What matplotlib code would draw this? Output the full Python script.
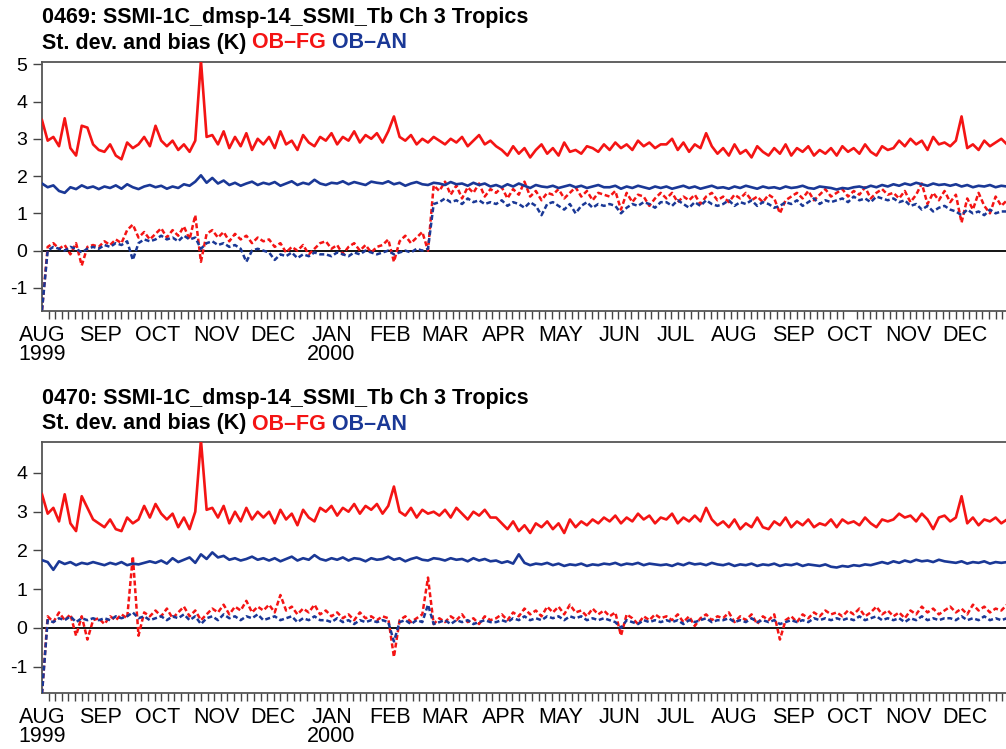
import numpy as np
import pandas as pd
import matplotlib
matplotlib.use("Agg")
import matplotlib.pyplot as plt
import matplotlib.dates as mdates
from matplotlib.ticker import FixedLocator, FuncFormatter

plt.rcParams["font.family"] = ["Liberation Sans", "DejaVu Sans"]
plt.rcParams["axes.unicode_minus"] = False

RED = "#f41414"
BLUE = "#1a3896"

# 3-day sampling, Aug 1999 - Dec 2000
dates = pd.date_range("1999-08-01", periods=173, freq="3D")

# ---- 0469 ----
fg_std_1 = [
    3.50, 2.95, 3.05, 2.80, 3.55, 2.75, 2.55, 3.35, 3.30, 2.85,
    2.70, 2.65, 2.85, 2.55, 2.45, 2.90, 2.75, 2.85, 3.05, 2.80,
    3.35, 2.95, 2.80, 2.95, 2.70, 2.85, 2.65, 2.95, 5.10, 3.05,
    3.10, 2.85, 3.20, 2.75, 3.05, 2.80, 3.15, 2.70, 3.00, 2.85,
    3.05, 2.75, 3.20, 2.85, 2.95, 2.70, 3.10, 2.90, 2.80, 3.05,
    2.95, 3.15, 2.85, 3.05, 2.95, 3.20, 2.90, 3.10, 3.00, 3.15,
    2.90, 3.20, 3.60, 3.05, 2.95, 3.10, 2.85, 3.00, 2.90, 3.05,
    2.95, 2.85, 3.00, 2.90, 3.05, 2.80, 2.95, 3.10, 2.85, 2.95,
    2.80, 2.70, 2.55, 2.80, 2.60, 2.75, 2.50, 2.70, 2.85, 2.60,
    2.75, 2.55, 2.90, 2.65, 2.70, 2.60, 2.80, 2.75, 2.65, 2.85,
    2.70, 2.90, 2.75, 2.85, 2.70, 2.95, 2.80, 2.90, 2.75, 2.85,
    2.85, 3.00, 2.70, 2.90, 2.65, 2.85, 2.75, 3.15, 2.80, 2.60,
    2.75, 2.55, 2.85, 2.60, 2.70, 2.50, 2.80, 2.65, 2.55, 2.75,
    2.60, 2.85, 2.55, 2.75, 2.65, 2.80, 2.55, 2.70, 2.60, 2.75,
    2.55, 2.80, 2.65, 2.75, 2.60, 2.85, 2.65, 2.55, 2.80, 2.70,
    2.75, 2.95, 2.80, 3.00, 2.85, 2.95, 2.70, 3.05, 2.85, 2.90,
    2.80, 2.95, 3.60, 2.75, 2.85, 2.70, 2.95, 2.80, 2.90, 3.00,
    2.85, 3.05, 2.95,
]
an_std_1 = [
    1.80, 1.70, 1.75, 1.60, 1.55, 1.70, 1.65, 1.75, 1.68, 1.72,
    1.65, 1.72, 1.68, 1.75, 1.66, 1.78, 1.70, 1.65, 1.72, 1.76,
    1.70, 1.74, 1.66, 1.72, 1.68, 1.78, 1.74, 1.85, 2.02, 1.82,
    1.95, 1.80, 1.88, 1.76, 1.82, 1.74, 1.80, 1.85, 1.76, 1.82,
    1.78, 1.84, 1.74, 1.80, 1.86, 1.76, 1.82, 1.78, 1.90, 1.80,
    1.76, 1.82, 1.80, 1.86, 1.78, 1.84, 1.80, 1.76, 1.85, 1.82,
    1.80, 1.86, 1.78, 1.82, 1.74, 1.80, 1.84, 1.78, 1.76, 1.82,
    1.80, 1.76, 1.84, 1.78, 1.80, 1.74, 1.82, 1.76, 1.80, 1.72,
    1.76, 1.70, 1.78, 1.72, 1.80, 1.74, 1.68, 1.76, 1.72, 1.70,
    1.74, 1.68, 1.72, 1.76, 1.70, 1.74, 1.68, 1.72, 1.76, 1.70,
    1.70, 1.74, 1.66, 1.72, 1.68, 1.74, 1.70, 1.66, 1.72, 1.68,
    1.72, 1.66, 1.70, 1.74, 1.68, 1.72, 1.66, 1.70, 1.74, 1.68,
    1.70, 1.66, 1.72, 1.68, 1.74, 1.70, 1.66, 1.72, 1.68, 1.70,
    1.66, 1.72, 1.68, 1.70, 1.74, 1.68, 1.66, 1.72, 1.70, 1.68,
    1.64, 1.68, 1.66, 1.70, 1.72, 1.68, 1.74, 1.70, 1.76, 1.72,
    1.78, 1.74, 1.80, 1.76, 1.82, 1.78, 1.74, 1.80, 1.76, 1.78,
    1.74, 1.78, 1.72, 1.76, 1.70, 1.74, 1.72, 1.76, 1.70, 1.74,
    1.72, 1.68, 1.70,
]
fg_bias_1 = [
    -1.60, 0.10, 0.20, 0.05, 0.15, -0.10, 0.20, -0.40, 0.10, 0.15,
    0.10, 0.25, 0.15, 0.30, 0.20, 0.55, 0.70, 0.35, 0.50, 0.30,
    0.45, 0.60, 0.35, 0.55, 0.40, 0.65, 0.30, 0.95, -0.30, 0.45,
    0.55, 0.35, 0.50, 0.25, 0.45, 0.30, 0.40, 0.20, 0.35, 0.25,
    0.30, 0.10, 0.20, -0.05, 0.10, 0.00, 0.15, -0.10, 0.05, 0.20,
    0.25, 0.05, 0.15, -0.10, 0.10, 0.20, 0.00, 0.15, -0.05, 0.10,
    0.15, 0.30, -0.30, 0.25, 0.40, 0.20, 0.35, 0.50, 0.00, 1.75,
    1.60, 1.85, 1.50, 1.75, 1.40, 1.70, 1.55, 1.80, 1.45, 1.65,
    1.55, 1.70, 1.40, 1.65, 1.50, 1.85, 1.45, 1.60, 1.35, 1.55,
    1.50, 1.65, 1.40, 1.55, 1.70, 1.45, 1.60, 1.35, 1.55, 1.50,
    1.45, 1.60, 1.10, 1.55, 1.30, 1.50, 1.45, 1.20, 1.40, 1.55,
    1.40, 1.55, 1.30, 1.45, 1.35, 1.50, 1.25, 1.45, 1.55, 1.35,
    1.45, 1.30, 1.50, 1.40, 1.55, 1.35, 1.45, 1.30, 1.50, 1.40,
    1.00, 1.35, 1.45, 1.55, 1.40, 1.60, 1.35, 1.50, 1.65, 1.45,
    1.55, 1.65, 1.45, 1.60, 1.50, 1.70, 1.40, 1.55, 1.65, 1.50,
    1.55, 1.40, 1.60, 1.30, 1.50, 1.80, 1.25, 1.55, 1.35, 1.60,
    1.30, 1.50, 0.75, 1.40, 1.10, 1.55, 1.20, 1.00, 1.45, 1.20,
    1.35, 1.50, 1.30,
]
an_bias_1 = [
    -1.60, 0.00, 0.10, 0.05, 0.00, 0.10, 0.05, -0.05, 0.05, 0.10,
    0.05, 0.15, 0.10, 0.20, 0.15, 0.25, -0.25, 0.20, 0.30, 0.25,
    0.30, 0.40, 0.30, 0.35, 0.25, 0.40, 0.30, 0.35, 0.05, 0.20,
    0.25, 0.15, 0.20, 0.10, 0.15, 0.05, -0.30, 0.00, 0.05, 0.00,
    -0.05, -0.25, -0.10, -0.15, -0.05, -0.20, -0.10, -0.15, -0.05, -0.10,
    -0.10, -0.15, -0.05, -0.10, -0.15, -0.05, -0.10, 0.00, -0.05, -0.10,
    -0.05, 0.00, -0.10, -0.05, 0.00, -0.05, 0.05, 0.00, 0.05, 1.25,
    1.30, 1.40, 1.30, 1.35, 1.25, 1.40, 1.30, 1.35, 1.25, 1.30,
    1.25, 1.35, 1.20, 1.30, 1.25, 1.15, 1.30, 1.20, 0.95, 1.25,
    1.30, 1.20, 1.10, 1.25, 1.00, 1.20, 1.30, 1.15, 1.25, 1.20,
    1.25, 1.20, 1.00, 1.15, 1.25, 1.20, 1.30, 1.25, 1.15, 1.30,
    1.30, 1.20, 1.35, 1.25, 1.15, 1.30, 1.20, 1.35, 1.25, 1.20,
    1.25, 1.35, 1.20, 1.30, 1.25, 1.35, 1.20, 1.30, 1.25, 1.15,
    1.20, 1.30, 1.25, 1.35, 1.20, 1.30, 1.40, 1.25, 1.35, 1.30,
    1.35, 1.40, 1.30, 1.45, 1.35, 1.40, 1.30, 1.45, 1.40, 1.35,
    1.40, 1.30, 1.35, 1.20, 1.25, 1.10, 1.20, 1.05, 1.15, 1.20,
    1.10, 1.05, 0.95, 1.10, 1.00, 1.05, 0.95, 1.10, 1.00, 1.05,
    1.05, 1.10, 1.00,
]

# ---- 0470 ----
fg_std_2 = [
    3.45, 2.95, 3.10, 2.75, 3.45, 2.70, 2.50, 3.40, 3.10, 2.80,
    2.70, 2.60, 2.80, 2.55, 2.50, 2.85, 2.70, 2.80, 3.15, 2.85,
    3.20, 2.95, 2.80, 2.95, 2.60, 2.85, 2.55, 3.00, 4.85, 3.05,
    3.10, 2.85, 3.15, 2.70, 3.00, 2.75, 3.10, 2.80, 3.00, 2.85,
    3.00, 2.70, 3.05, 2.80, 2.95, 2.65, 3.05, 2.85, 2.75, 3.10,
    3.00, 3.15, 2.90, 3.10, 3.00, 3.20, 2.95, 3.15, 3.05, 3.20,
    2.95, 3.15, 3.65, 3.00, 2.90, 3.10, 2.85, 3.05, 2.95, 3.00,
    2.90, 3.05, 2.85, 3.10, 2.95, 2.80, 3.00, 2.90, 3.05, 2.85,
    2.85, 2.70, 2.55, 2.75, 2.50, 2.65, 2.45, 2.70, 2.60, 2.75,
    2.55, 2.70, 2.45, 2.80, 2.60, 2.75, 2.65, 2.80, 2.70, 2.85,
    2.75, 2.90, 2.70, 2.85, 2.75, 2.95, 2.80, 2.90, 2.70, 2.85,
    2.80, 2.95, 2.70, 2.85, 2.75, 2.90, 2.75, 3.10, 2.80, 2.65,
    2.75, 2.60, 2.80, 2.55, 2.70, 2.60, 2.85, 2.60, 2.55, 2.75,
    2.65, 2.85, 2.60, 2.75, 2.65, 2.80, 2.60, 2.70, 2.65, 2.80,
    2.60, 2.80, 2.70, 2.75, 2.65, 2.85, 2.70, 2.60, 2.80, 2.75,
    2.80, 2.95, 2.85, 2.90, 2.75, 2.95, 2.80, 2.55, 2.85, 2.90,
    2.75, 2.85, 3.40, 2.70, 2.85, 2.65, 2.80, 2.75, 2.85, 2.70,
    2.80, 2.90, 2.75,
]
an_std_2 = [
    1.75, 1.70, 1.50, 1.72, 1.65, 1.70, 1.62, 1.68, 1.65, 1.70,
    1.66, 1.62, 1.68, 1.64, 1.70, 1.62, 1.66, 1.64, 1.68, 1.72,
    1.68, 1.74, 1.66, 1.80, 1.70, 1.76, 1.82, 1.68, 1.90, 1.78,
    1.95, 1.82, 1.86, 1.76, 1.80, 1.74, 1.78, 1.84, 1.76, 1.80,
    1.74, 1.80, 1.72, 1.78, 1.84, 1.74, 1.80, 1.76, 1.88, 1.78,
    1.74, 1.80, 1.76, 1.82, 1.74, 1.80, 1.78, 1.72, 1.80, 1.76,
    1.78, 1.84, 1.76, 1.80, 1.72, 1.78, 1.82, 1.76, 1.74, 1.80,
    1.78, 1.74, 1.80, 1.76, 1.78, 1.72, 1.80, 1.74, 1.78, 1.72,
    1.74, 1.68, 1.72, 1.66, 1.90, 1.68, 1.62, 1.66, 1.64, 1.68,
    1.62, 1.66, 1.60, 1.64, 1.62, 1.66, 1.60, 1.64, 1.62, 1.66,
    1.64, 1.68, 1.62, 1.66, 1.64, 1.68, 1.62, 1.66, 1.64, 1.62,
    1.64, 1.60, 1.66, 1.62, 1.68, 1.64, 1.66, 1.62, 1.68, 1.64,
    1.62, 1.66, 1.60, 1.64, 1.62, 1.66, 1.60, 1.64, 1.62, 1.66,
    1.60, 1.64, 1.62, 1.66, 1.60, 1.64, 1.62, 1.60, 1.64, 1.58,
    1.56, 1.60, 1.58, 1.62, 1.60, 1.64, 1.62, 1.66, 1.70, 1.66,
    1.72, 1.68, 1.74, 1.70, 1.76, 1.72, 1.74, 1.70, 1.76, 1.72,
    1.70, 1.68, 1.72, 1.66, 1.70, 1.68, 1.72, 1.66, 1.70, 1.68,
    1.70, 1.66, 1.68,
]
fg_bias_2 = [
    -1.70, 0.30, 0.15, 0.40, 0.20, 0.35, -0.20, 0.30, -0.30, 0.20,
    0.25, 0.10, 0.30, 0.20, 0.35, 0.25, 1.85, -0.20, 0.40, 0.30,
    0.45, 0.30, 0.50, 0.25, 0.40, 0.55, 0.30, 0.45, 0.20, 0.35,
    0.50, 0.40, 0.60, 0.35, 0.55, 0.45, 0.70, 0.40, 0.55, 0.45,
    0.60, 0.40, 0.85, 0.45, 0.55, 0.35, 0.50, 0.40, 0.60, 0.35,
    0.45, 0.30, 0.40, 0.25, 0.35, 0.20, 0.40, 0.25, 0.30, 0.20,
    0.30, 0.25, -0.75, 0.20, 0.30, 0.15, 0.25, 0.35, 1.30, 0.10,
    0.25, 0.15, 0.30, 0.20, 0.35, 0.15, 0.25, 0.10, 0.30, 0.20,
    0.25, 0.35, 0.20, 0.40, 0.30, 0.50, 0.35, 0.45, 0.30, 0.55,
    0.40, 0.55, 0.35, 0.60, 0.40, 0.45, 0.30, 0.50, 0.35, 0.45,
    0.30, 0.40, -0.20, 0.35, 0.25, 0.10, 0.30, 0.20, 0.35, 0.25,
    0.30, 0.20, 0.35, 0.15, 0.30, 0.05, 0.25, 0.35, 0.20, 0.30,
    0.25, 0.40, 0.15, 0.30, 0.20, 0.35, 0.10, 0.30, 0.20, 0.35,
    -0.30, 0.20, 0.30, 0.15, 0.35, 0.25, 0.40, 0.30, 0.45, 0.35,
    0.40, 0.30, 0.45, 0.35, 0.50, 0.30, 0.40, 0.55, 0.35, 0.45,
    0.30, 0.40, 0.25, 0.45, 0.35, 0.55, 0.40, 0.50, 0.35, 0.45,
    0.55, 0.40, 0.50, 0.35, 0.60, 0.45, 0.55, 0.40, 0.50, 0.45,
    0.60, 0.55, 0.65,
]
an_bias_2 = [
    -1.70, 0.20, 0.15, 0.25, 0.20, 0.30, 0.15, 0.25, 0.20, 0.25,
    0.20, 0.25, 0.20, 0.30, 0.25, 0.30, 0.40, 0.25, 0.30, 0.20,
    0.25, 0.30, 0.20, 0.30, 0.25, 0.35, 0.20, 0.30, 0.10, 0.25,
    0.30, 0.20, 0.35, 0.25, 0.30, 0.20, 0.30, 0.25, 0.35, 0.20,
    0.25, 0.30, 0.20, 0.25, 0.30, 0.15, 0.25, 0.20, 0.30, 0.20,
    0.20, 0.15, 0.25, 0.15, 0.20, 0.10, 0.20, 0.15, 0.20, 0.15,
    0.20, 0.15, -0.35, 0.15, 0.20, 0.10, 0.20, 0.15, 0.60, 0.10,
    0.15, 0.20, 0.10, 0.20, 0.15, 0.20, 0.10, 0.15, 0.20, 0.15,
    0.15, 0.20, 0.15, 0.25, 0.20, 0.30, 0.20, 0.25, 0.20, 0.30,
    0.25, 0.30, 0.20, 0.30, 0.25, 0.30, 0.20, 0.25, 0.20, 0.25,
    0.20, 0.15, 0.00, 0.20, 0.15, 0.10, 0.20, 0.15, 0.20, 0.15,
    0.20, 0.15, 0.20, 0.10, 0.20, 0.15, 0.20, 0.25, 0.15, 0.20,
    0.20, 0.25, 0.15, 0.20, 0.15, 0.25, 0.15, 0.20, 0.15, 0.20,
    0.10, 0.15, 0.20, 0.15, 0.20, 0.15, 0.25, 0.20, 0.25, 0.20,
    0.25, 0.20, 0.25, 0.20, 0.30, 0.20, 0.25, 0.30, 0.20, 0.25,
    0.20, 0.25, 0.15, 0.25, 0.20, 0.30, 0.20, 0.25, 0.20, 0.25,
    0.25, 0.20, 0.30, 0.20, 0.25, 0.20, 0.30, 0.20, 0.25, 0.20,
    0.25, 0.30, 0.25,
]

panels = [
    dict(code="0469", fg_std=fg_std_1, an_std=an_std_1, fg_bias=fg_bias_1,
         an_bias=an_bias_1, ylim=(-1.62, 5.06), yticks=[-1, 0, 1, 2, 3, 4, 5]),
    dict(code="0470", fg_std=fg_std_2, an_std=an_std_2, fg_bias=fg_bias_2,
         an_bias=an_bias_2, ylim=(-1.68, 4.80), yticks=[-1, 0, 1, 2, 3, 4]),
]

W, H = 1006, 749
fig = plt.figure(figsize=(W / 100, H / 100), dpi=100, facecolor="white")
renderer = fig.canvas.get_renderer()

# axes boxes in pixels: left, top, right, bottom (right edge runs off the page)
boxes = [(42, 62, 1024, 311), (42, 442, 1024, 693)]
title_y = [(17, 43), (398, 424)]

start = mdates.date2num(pd.Timestamp("1999-08-01"))
end = mdates.date2num(pd.Timestamp("2001-01-01"))
month_starts = mdates.date2num(pd.date_range("1999-08-01", "2000-12-01", freq="MS"))


def month_label(x, pos):
    d = mdates.num2date(x)
    lab = d.strftime("%b").upper()
    if pos == 0 or d.month == 1:
        lab += "\n" + str(d.year)
    return lab


def text_run(x, y, pieces):
    for s, c in pieces:
        t = fig.text(x / W, 1 - y / H, s, color=c, fontsize=15.5,
                     fontweight="bold", va="center", ha="left")
        x += t.get_window_extent(renderer).width


for p, (l, t, r, b), (ty1, ty2) in zip(panels, boxes, title_y):
    ax = fig.add_axes([l / W, 1 - b / H, (r - l) / W, (b - t) / H])
    ax.axhline(0, color="black", lw=1.3, zorder=1)
    ax.plot(dates, p["fg_bias"], color=RED, lw=1.8, ls=(0, (2.0, 1.1)), zorder=2)
    ax.plot(dates, p["an_bias"], color=BLUE, lw=1.8, ls=(0, (2.0, 1.1)), zorder=3)
    ax.plot(dates, p["an_std"], color=BLUE, lw=1.9, zorder=4)
    ax.plot(dates, p["fg_std"], color=RED, lw=1.9, zorder=5)

    ax.set_xlim(start, end)
    ax.set_ylim(*p["ylim"])
    ax.set_yticks(p["yticks"])
    ax.xaxis.set_major_locator(FixedLocator(month_starts))
    ax.xaxis.set_major_formatter(FuncFormatter(month_label))
    ax.xaxis.set_minor_locator(FixedLocator(np.arange(start, end, 3.5)))
    ax.tick_params(axis="x", which="major", length=0, pad=10, labelsize=15.5)
    ax.tick_params(axis="x", which="minor", length=6, width=1, color="#444")
    ax.tick_params(axis="y", length=6.5, width=1, color="#444", pad=4, labelsize=14)
    for lab in ax.get_xticklabels():
        lab.set_linespacing(0.88)
    for side in ["top", "bottom", "left"]:
        ax.spines[side].set_color("#555")
        ax.spines[side].set_linewidth(1.3)
    ax.spines["right"].set_visible(False)

    text_run(42, ty1, [(p["code"] + ": SSMI-1C_dmsp-14_SSMI_Tb Ch 3 Tropics", "black")])
    text_run(42, ty2, [("St. dev. and bias (K)", "black"), (" OB–FG", RED), (" OB–AN", BLUE)])

fig.savefig("out.png", dpi=100, facecolor="white")
